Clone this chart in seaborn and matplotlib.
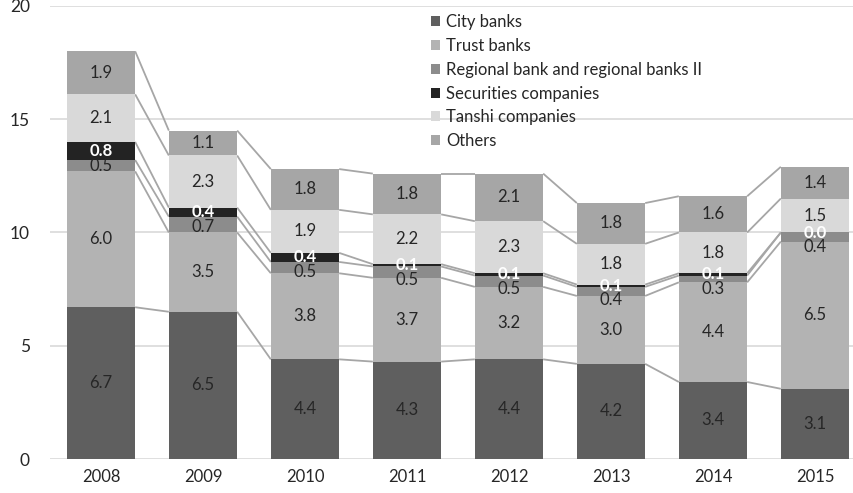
import matplotlib
matplotlib.use("Agg")
import matplotlib.pyplot as plt
from matplotlib.patches import Patch
import numpy as np
import pandas as pd
import seaborn as sns

years = ["2008", "2009", "2010", "2011", "2012", "2013", "2014", "2015"]
series_names = ["City banks", "Trust banks", "Regional bank and regional banks II",
                "Securities companies", "Tanshi companies", "Others"]
city_banks = [6.7, 6.5, 4.4, 4.3, 4.4, 4.2, 3.4, 3.1]
trust_banks = [6.0, 3.5, 3.8, 3.7, 3.2, 3.0, 4.4, 6.5]
regional_banks = [0.5, 0.7, 0.5, 0.5, 0.5, 0.4, 0.3, 0.4]
securities = [0.8, 0.4, 0.4, 0.1, 0.1, 0.1, 0.1, 0.0]
tanshi = [2.1, 2.3, 1.9, 2.2, 2.3, 1.8, 1.8, 1.5]
others = [1.9, 1.1, 1.8, 1.8, 2.1, 1.8, 1.6, 1.4]
yticks = [0, 5, 10, 15, 20]

values = [city_banks, trust_banks, regional_banks, securities, tanshi, others]
colors = ["#5f5f5f", "#b3b3b3", "#8c8c8c", "#232323", "#d9d9d9", "#a6a6a6"]
label_colors = ["#262626", "#262626", "#262626", "white", "#262626", "#262626"]
label_weights = ["normal", "normal", "normal", "bold", "normal", "normal"]

sns.set_theme(style="white")
plt.rcParams["font.family"] = ["Lato", "DejaVu Sans"]

fig = plt.figure(figsize=(8.54, 4.93), dpi=100)
ax = fig.add_axes([50 / 854, 34 / 493, 804 / 854, 453 / 493])

data = np.array(values)
cum = np.cumsum(data, axis=0)
bar_w = 0.67

# stacked bars: draw cumulative totals from the top series down
for k in range(len(series_names) - 1, -1, -1):
    df = pd.DataFrame({"year": years, "total": cum[k]})
    sns.barplot(data=df, x="year", y="total", order=years, color=colors[k],
                width=bar_w, saturation=1, linewidth=0, ax=ax, zorder=2)

# connector lines between the tops of matching segments
x = np.arange(len(years))
for k in range(len(series_names)):
    for i in range(len(years) - 1):
        ax.plot([x[i] + bar_w / 2, x[i + 1] - bar_w / 2], [cum[k][i], cum[k][i + 1]],
                color="#a6a6a6", lw=1.3, zorder=1.5, solid_capstyle="butt")

# value labels centred in each segment; the regional-bank label is pushed
# below the securities label when the two thin segments would collide
label_gap = 0.65
for i in range(len(years)):
    centers = cum[:, i] - data[:, i] / 2
    ys = centers.copy()
    ys[2] = min(centers[2], centers[3] - label_gap)
    for k in range(len(series_names)):
        ax.text(x[i], ys[k], f"{data[k][i]:.1f}", ha="center", va="center",
                fontsize=12, color=label_colors[k], fontweight=label_weights[k],
                zorder=4)

ax.set_xlim(-0.5, (854 - 101) / 102)
ax.set_ylim(0, 20)
ax.set_yticks(yticks)
ax.set_yticklabels([str(t) for t in yticks])
ax.set_xlabel("")
ax.set_ylabel("")
ax.grid(axis="y", color="#d9d9d9", lw=1.2, zorder=0)
ax.grid(axis="x", visible=False)
ax.set_axisbelow(True)
for s in ax.spines.values():
    s.set_visible(False)
ax.tick_params(axis="y", length=0, pad=14.4, labelsize=12.5, labelcolor="#262626")
ax.tick_params(axis="x", length=0, pad=7, labelsize=12, labelcolor="#262626")
for lbl in ax.get_yticklabels():
    lbl.set_horizontalalignment("right")

handles = [Patch(facecolor=c, edgecolor="none") for c in colors]
fig.legend(handles, series_names, loc="upper left", bbox_to_anchor=(431 / 854, 1 - 14 / 493),
           frameon=False, fontsize=12, handlelength=0.55, handleheight=0.55,
           handletextpad=0.35, labelspacing=0.47, borderaxespad=0, borderpad=0,
           labelcolor="#262626")

fig.savefig("out.png", dpi=100)
